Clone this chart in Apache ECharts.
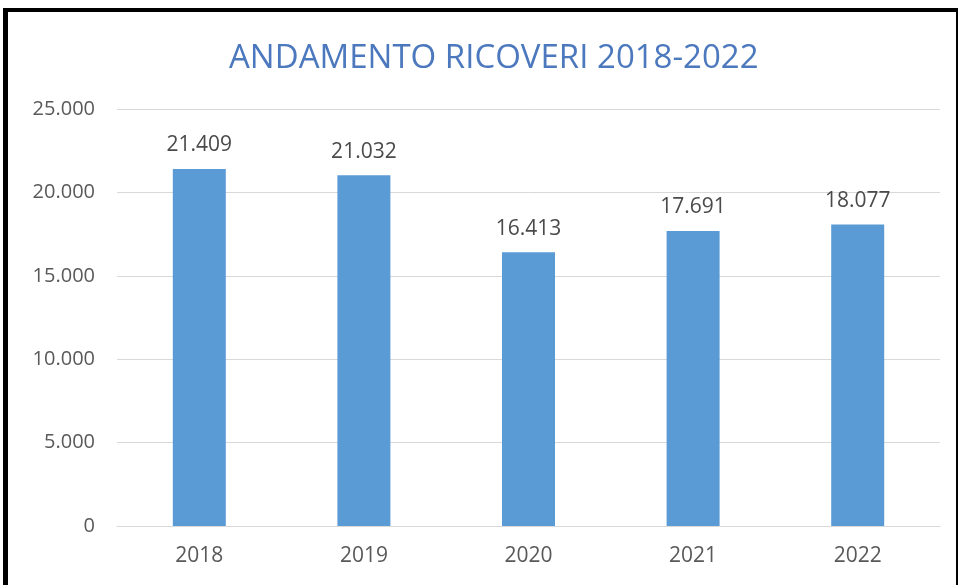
<!DOCTYPE html>
<html><head><meta charset="utf-8">
<script src="https://cdn.jsdelivr.net/npm/echarts@6/dist/echarts.min.js"></script>
<style>
html,body{margin:0;padding:0;background:#fff;}
#frame{position:absolute;left:3px;top:8px;width:948px;height:590px;border-left:5px solid #000;border-top:4px solid #000;border-right:3px solid #000;}
#c{position:absolute;left:0;top:0;width:958px;height:585px;}
</style></head>
<body>
<div id="frame"></div>
<div id="c"></div>
<script>
const categories = ['2018','2019','2020','2021','2022'];
const ricoveri = [21409, 21032, 16413, 17691, 18077];
const titleText = 'ANDAMENTO RICOVERI 2018-2022';

function fmt(v){ return String(v).replace(/\B(?=(\d{3})+(?!\d))/g,'.'); }

const chart = echarts.init(document.getElementById('c'));
chart.setOption({
  animation:false,
  title:{text:titleText,left:224,top:37,textStyle:{fontFamily:'Open Sans',fontWeight:'normal',fontSize:33,color:'#4C78BD'}},
  grid:{left:117,right:18,top:109,bottom:59},
  xAxis:{type:'category',data:categories,axisTick:{show:false},
    axisLine:{lineStyle:{color:'#D9D9D9',width:1}},
    axisLabel:{color:'#595959',fontFamily:'Open Sans',fontSize:21,margin:20}},
  yAxis:{type:'value',min:0,max:25000,interval:5000,
    axisLabel:{color:'#595959',fontFamily:'Open Sans',fontSize:20,margin:22,formatter:fmt},
    splitLine:{lineStyle:{color:'#D9D9D9',width:1}}},
  series:[{type:'bar',data:ricoveri,barWidth:53,itemStyle:{color:'#5B9BD5'},
    label:{show:true,position:'top',distance:13,color:'#4A4A4A',fontFamily:'Open Sans',fontSize:21,formatter:p=>fmt(p.value)}}]
});
</script>
</body></html>
